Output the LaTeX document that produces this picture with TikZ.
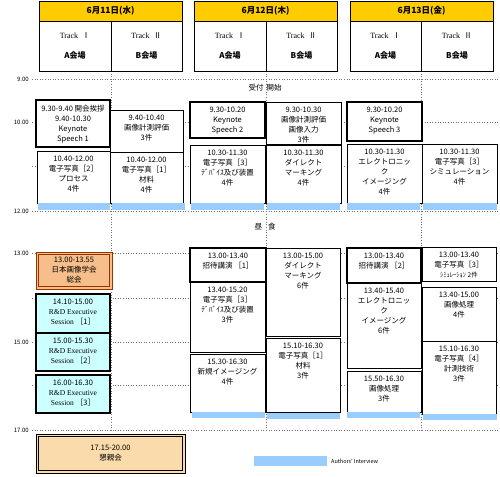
\documentclass[tikz,border=0pt]{standalone}
\usepackage{fontspec}
\setmainfont{Noto Sans CJK JP}
\newfontfamily\lat{Liberation Serif}
\definecolor{hdr}{HTML}{FFCC00}
\definecolor{intv}{HTML}{99CCFF}
\definecolor{rnd}{HTML}{CCFFFF}
\definecolor{soukai}{RGB}{246,190,138}
\definecolor{soukaiedge}{HTML}{993300}
\definecolor{party}{RGB}{250,220,172}
\newcommand\slot[7]{%
  \node[#1, minimum width={(#5-#3)*1pt}, minimum height={(#6-#4)*1pt},
    label={[lbl]north:{#7}}] (#2) at (#3,#4) {};}
\newcommand\ivbar[5]{%
  \node[ivb, minimum width={(#4-#2)*1pt}, minimum height={(#5-#3)*1pt}] (#1) at (#2,#3) {};}
\begin{document}
\begin{tikzpicture}[x=1pt,y=-1pt,
  box/.style={draw=black, line width=0.8pt, fill=white, inner sep=0pt, outer sep=0pt, anchor=north west},
  kbox/.style={box, line width=1.8pt},
  rbox/.style={box, line width=1.8pt, fill=rnd},
  sbox/.style={box, fill=soukai, draw=soukaiedge, line width=0.9pt},
  pbox/.style={box, fill=party, draw=black, line width=0.9pt, align=center, font=\fontsize{7.5}{10}\selectfont},
  lbl/.style={anchor=north, yshift=-4.5pt, align=center, inner sep=0pt, draw=none, fill=none, font=\fontsize{7.5}{10}\selectfont},
  ivb/.style={fill=intv, draw=none, inner sep=0pt, outer sep=0pt, anchor=north west},
  gridl/.style={draw=black!55, dotted, line width=0.6pt},
  tlab/.style={anchor=east, inner sep=0pt, font=\fontsize{6}{7}\selectfont},
  hdrbox/.style={box, fill=hdr, font=\fontsize{8.5}{10}\selectfont\bfseries},
  trk/.style={box, align=center, font=\fontsize{8}{20}\selectfont},
  free/.style={inner sep=0pt, font=\fontsize{7.5}{10}\selectfont},
]
\fill[white] (0,0) rectangle (500,476);
\useasboundingbox (0,0) rectangle (500,476);

% grid
\foreach \yy in {79,122,166,211,253,298,342,385,430} \draw[gridl] (32,\yy) -- (498,\yy);
\foreach \xx in {111,266,421} \draw[gridl] (\xx,71) -- (\xx,430);

% time labels
\node[tlab] (t9) at (29,79) {9.00};
\node[tlab] (t10) at (29,122) {10.00};
\node[tlab] (t12) at (29,211) {12.00};
\node[tlab] (t13) at (29,253) {13.00};
\node[tlab] (t15) at (29,342) {15.00};
\node[tlab] (t17) at (29,430) {17.00};

% headers
\node[hdrbox, minimum width=143pt, minimum height=20pt] (h1) at (39,1) {6月11日(水)};
\node[trk, minimum width=72pt, minimum height=50pt] (h1a) at (39,21) {{\lat Track}\hspace{4pt}Ⅰ\\{\bfseries A会場}};
\node[trk, minimum width=71pt, minimum height=50pt] (h1b) at (111,21) {{\lat Track}\hspace{4pt}Ⅱ\\{\bfseries B会場}};
\node[hdrbox, minimum width=143pt, minimum height=20pt] (h2) at (194,1) {6月12日(木)};
\node[trk, minimum width=72pt, minimum height=50pt] (h2a) at (194,21) {{\lat Track}\hspace{4pt}Ⅰ\\{\bfseries A会場}};
\node[trk, minimum width=71pt, minimum height=50pt] (h2b) at (266,21) {{\lat Track}\hspace{4pt}Ⅱ\\{\bfseries B会場}};
\node[hdrbox, minimum width=143pt, minimum height=20pt] (h3) at (350,1) {6月13日(金)};
\node[trk, minimum width=71pt, minimum height=50pt] (h3a) at (350,21) {{\lat Track}\hspace{4pt}Ⅰ\\{\bfseries A会場}};
\node[trk, minimum width=72pt, minimum height=50pt] (h3b) at (421,21) {{\lat Track}\hspace{4pt}Ⅱ\\{\bfseries B会場}};

\node[free] (uke) at (265,88) {受付\hspace{3pt}開始};
\node[free] (lunch) at (265,227) {昼\hspace{6pt}食};

% morning
\slot{box}{d1b1}{110}{110}{183}{152}{9.40-10.40\\画像計測評価\\3件}
\slot{box}{d1a2}{37}{151}{110}{203}{10.40-12.00\\電子写真［2］\\プロセス\\4件}
\slot{box}{d1b2}{110}{152}{183}{203}{10.40-12.00\\電子写真［1］\\材料\\4件}
\slot{kbox}{d1a1}{36}{100}{110}{147}{9.30-9.40 開会挨拶\\9.40-10.30\\Keynote\\Speech 1}
\slot{box}{d2b1}{266}{102}{341}{144}{9.30-10.30\\画像計測評価\\画像入力\\3件}
\slot{box}{d2a2}{190}{145}{265}{203}{10.30-11.30\\電子写真［3］\\ﾃﾞﾊﾞｲｽ及び装置\\4件}
\slot{box}{d2b2}{266}{145}{341}{203}{10.30-11.30\\ダイレクト\\マーキング\\4件}
\slot{kbox}{d2a1}{190}{102}{265}{138}{9.30-10.20\\Keynote\\Speech 2}
\slot{box}{d3a2}{347}{144}{422}{203}{10.30-11.30\\エレクトロニッ\\ク\\イメージング\\4件}
\slot{box}{d3b2}{422}{144}{497}{203}{10.30-11.30\\電子写真［3］\\シミュレーション\\4件}
\slot{kbox}{d3a1}{347}{102}{422}{141}{9.30-10.20\\Keynote\\Speech 3}

\ivbar{iv1}{38}{203}{110}{210}
\ivbar{iv2}{112}{203}{185}{210}
\ivbar{iv3}{191}{203}{264}{210}
\ivbar{iv4}{267}{203}{340}{210}
\ivbar{iv5}{347}{203}{420}{210}
\ivbar{iv6}{423}{203}{497}{210}

% afternoon day 1
\slot{sbox}{d1s}{36}{252}{112}{289}{13.00-13.55\\日本画像学会\\総会}
\draw[soukaiedge, line width=0.7pt] ([shift={(2.2pt,-2.2pt)}]d1s.north west) rectangle ([shift={(-2.2pt,2.2pt)}]d1s.south east);
\slot{rbox}{r1}{36}{294}{110}{333}{14.10-15.00\\{\lat R\&D Executive}\\{\lat Session}\hspace{2pt}［1］}
\slot{rbox}{r2}{36}{333}{110}{371}{15.00-15.30\\{\lat R\&D Executive}\\{\lat Session}\hspace{2pt}［2］}
\slot{rbox}{r3}{36}{375}{110}{413}{16.00-16.30\\{\lat R\&D Executive}\\{\lat Session}\hspace{2pt}［3］}

% afternoon day 2
\slot{box}{d2a4}{190}{282}{265}{352}{13.40-15.20\\電子写真［3］\\ﾃﾞﾊﾞｲｽ及び装置\\3件}
\slot{box}{d2a5}{190}{354}{265}{412}{15.30-16.30\\新規イメージング\\4件}
\slot{box}{d2b3}{266}{248}{340}{336}{13.00-15.00\\ダイレクト\\マーキング\\6件}
\slot{box}{d2b4}{266}{338}{340}{412}{15.10-16.30\\電子写真［1］\\材料\\3件}
\slot{kbox}{d2a3}{190}{248}{266}{282}{13.00-13.40\\招待講演 ［1］}

% afternoon day 3
\slot{box}{d3a4}{347}{283}{421}{368}{13.40-15.40\\エレクトロニッ\\ク\\イメージング\\6件}
\slot{box}{d3a5}{347}{371}{421}{412}{15.50-16.30\\画像処理\\3件}
\slot{box}{d3b3}{422}{247}{496}{281}{13.00-13.40\\電子写真［3］\\{\fontsize{6.5}{10}\selectfont ｼﾐｭﾚｰｼｮﾝ 2件}}
\slot{box}{d3b4}{422}{287}{496}{341}{13.40-15.00\\画像処理\\4件}
\slot{box}{d3b5}{422}{341}{496}{414}{15.10-16.30\\電子写真［4］\\計測技術\\3件}
\slot{kbox}{d3a3}{347}{248}{421}{283}{13.00-13.40\\招待講演 ［2］}

\ivbar{iv7}{192}{412}{265}{418}
\ivbar{iv8}{267}{413}{340}{419}
\ivbar{iv9}{347}{412}{420}{418}
\ivbar{iv10}{423}{414}{497}{420}

% evening
\node[pbox, minimum width=149pt, minimum height=39pt] (party) at (36,434) {17.15-20.00\\懇親会};
\draw[black, line width=0.7pt] ([shift={(2.2pt,-2.2pt)}]party.north west) rectangle ([shift={(-2.2pt,2.2pt)}]party.south east);

% legend
\ivbar{leg}{254}{456}{327}{466}
\node[inner sep=0pt, anchor=west, font=\fontsize{5.5}{6}\selectfont] (legt) at (331,461) {Authors' Interview};
\end{tikzpicture}
\end{document}
